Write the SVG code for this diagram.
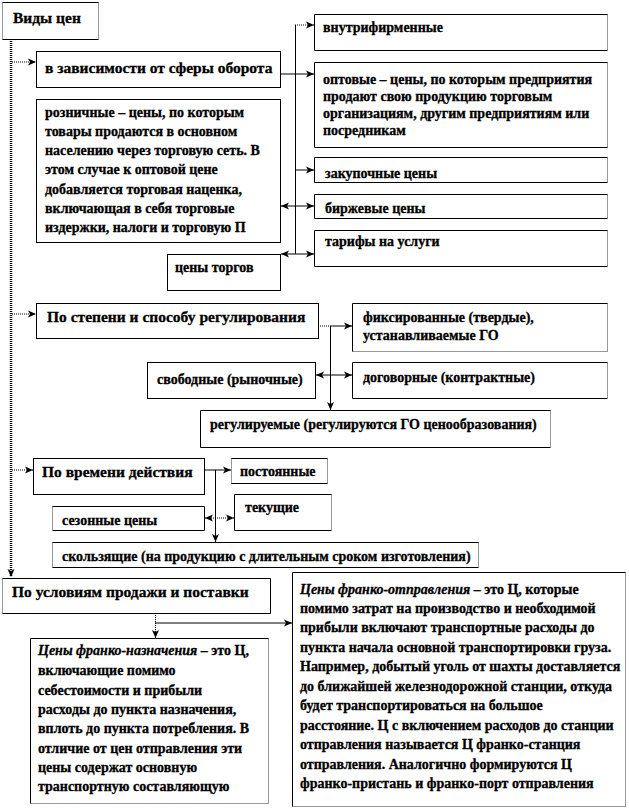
<svg xmlns="http://www.w3.org/2000/svg" width="629" height="809" viewBox="0 0 629 809">
<style>
text{font-family:"Liberation Serif","Times New Roman","DejaVu Serif",serif;font-weight:bold;font-size:14px;fill:#000;stroke:#000;stroke-width:0.3}
.h{font-size:15.5px}
.bx{fill:#fff;stroke:#000;stroke-width:1}
.bg{fill:#fff;stroke:none}
.sl{fill:none;stroke:#000;stroke-width:1}
.dt{fill:none;stroke:#333;stroke-width:1;stroke-dasharray:1 1}
.c{fill:none;stroke:#000;stroke-width:1}
.cd{fill:none;stroke:#000;stroke-width:1;stroke-dasharray:1 1}
.main{fill:none;stroke:#000;stroke-width:2.5;stroke-dasharray:1 1}
</style>
<defs>
<marker id="ah" viewBox="0 0 8 8" refX="8" refY="4" markerWidth="8" markerHeight="8" markerUnits="userSpaceOnUse" orient="auto-start-reverse">
<path d="M0,0.5 L8,4 L0,7.5 L2,4 z" fill="#000"/>
</marker>
</defs>

<g id="connectors">
<path class="main" d="M11,39 V577" marker-end="url(#ah)"/>
<path class="cd" d="M12,62 H36" marker-end="url(#ah)"/>
<path class="cd" d="M12,314 H36" marker-end="url(#ah)"/>
<path class="cd" d="M12,470 H33" marker-end="url(#ah)"/>
<path class="c" d="M280,74 H314" marker-end="url(#ah)"/>
<path class="c" d="M295.5,25 V254"/>
<path class="cd" d="M295,25 H314" marker-end="url(#ah)"/>
<path class="c" d="M295,170 H314" marker-end="url(#ah)"/>
<path class="c" d="M281,206 H314" marker-start="url(#ah)" marker-end="url(#ah)"/>
<path class="c" d="M281,254 H314" marker-start="url(#ah)" marker-end="url(#ah)"/>
<path class="cd" d="M318,326 H330"/>
<path class="c" d="M330,326 H352" marker-end="url(#ah)"/>
<path class="c" d="M330.5,326 V410" marker-end="url(#ah)"/>
<path class="c" d="M316,375 H352" marker-start="url(#ah)" marker-end="url(#ah)"/>
<path class="c" d="M204,470 H231" marker-end="url(#ah)"/>
<path class="c" d="M215.5,470 V542" marker-end="url(#ah)"/>
<path class="cd" d="M205,518 H234" marker-start="url(#ah)" marker-end="url(#ah)"/>
<path class="cd" d="M155.5,613 V638" marker-end="url(#ah)"/>
<path class="c" d="M155,623 H292" marker-end="url(#ah)"/>
</g>

<g id="n-vidy">
<rect class="bg" x="2.5" y="2.5" width="96" height="37"/>
<path class="sl" d="M2.5,2.5H98.5M2.5,39.5H98.5"/>
<path class="dt" d="M2.5,2.5V39.5M98.5,2.5V39.5"/>
<text class="h" x="13" y="23" font-size="16">Виды цен</text>
</g>

<g id="n-sfera">
<rect class="bx" x="36.5" y="51.5" width="244" height="36"/>
<text class="h" x="45" y="73">в зависимости от сферы оборота</text>
</g>

<g id="n-roznich">
<rect class="bx" x="36.5" y="99.5" width="244" height="143"/>
<text x="45" y="117">розничные – цены, по которым</text>
<text x="45" y="136">товары продаются в основном</text>
<text x="45" y="155">населению через торговую сеть. В</text>
<text x="45" y="174">этом случае к оптовой цене</text>
<text x="45" y="194">добавляется торговая наценка,</text>
<text x="45" y="213">включающая в себя торговые</text>
<text x="45" y="232">издержки, налоги и торговую П</text>
</g>

<g id="n-vnutri">
<rect class="bg" x="314.5" y="14.5" width="293" height="36"/>
<path class="sl" d="M607.5,14.5H314.5V50.5H607.5"/>
<path class="dt" d="M607.5,14.5V50.5"/>
<text x="323" y="32">внутрифирменные</text>
</g>

<g id="n-optov">
<rect class="bg" x="314.5" y="62.5" width="293" height="85"/>
<path class="sl" d="M607.5,62.5H314.5V147.5H607.5"/>
<path class="dt" d="M607.5,62.5V147.5"/>
<text x="323" y="84">оптовые – цены, по которым предприятия</text>
<text x="323" y="101">продают свою продукцию торговым</text>
<text x="323" y="118">организациям, другим предприятиям или</text>
<text x="323" y="135">посредникам</text>
</g>

<g id="n-zakup">
<rect class="bg" x="314.5" y="157.5" width="293" height="25"/>
<path class="sl" d="M607.5,157.5H314.5V182.5H607.5"/>
<path class="dt" d="M607.5,157.5V182.5"/>
<text x="325" y="178">закупочные цены</text>
</g>

<g id="n-birzh">
<rect class="bg" x="314.5" y="194.5" width="293" height="24"/>
<path class="sl" d="M607.5,194.5H314.5V218.5H607.5"/>
<path class="dt" d="M607.5,194.5V218.5"/>
<text x="325" y="213">биржевые цены</text>
</g>

<g id="n-tarif">
<rect class="bg" x="314.5" y="230.5" width="293" height="36"/>
<path class="sl" d="M607.5,230.5H314.5V266.5H607.5"/>
<path class="dt" d="M607.5,230.5V266.5"/>
<text x="325" y="246">тарифы на услуги</text>
</g>

<g id="n-torgi">
<rect class="bx" x="167.5" y="254.5" width="113" height="36"/>
<text x="175" y="272">цены торгов</text>
</g>

<g id="n-regul-head">
<rect class="bx" x="36.5" y="303.5" width="282" height="35"/>
<text class="h" x="47" y="322">По степени и способу регулирования</text>
</g>

<g id="n-fiks">
<rect class="bg" x="352.5" y="303.5" width="255" height="48"/>
<path class="sl" d="M607.5,303.5H352.5V351.5"/>
<path class="dt" d="M352.5,351.5H607.5V303.5"/>
<text x="363" y="322">фиксированные (твердые),</text>
<text x="363" y="340">устанавливаемые ГО</text>
</g>

<g id="n-svob">
<rect class="bx" x="147.5" y="362.5" width="168" height="36"/>
<text x="157" y="384">свободные (рыночные)</text>
</g>

<g id="n-dogov">
<rect class="bg" x="352.5" y="362.5" width="255" height="36"/>
<path class="sl" d="M607.5,362.5H352.5V398.5H607.5"/>
<path class="dt" d="M607.5,362.5V398.5"/>
<text x="363" y="382">договорные (контрактные)</text>
</g>

<g id="n-reguliruemye">
<rect class="bg" x="200.5" y="410.5" width="350" height="37"/>
<path class="sl" d="M550.5,410.5H200.5V447.5H550.5"/>
<path class="dt" d="M550.5,410.5V447.5"/>
<text x="210" y="429">регулируемые (регулируются ГО ценообразования)</text>
</g>

<g id="n-vremya">
<rect class="bx" x="33.5" y="458.5" width="171" height="36"/>
<text class="h" x="42" y="477">По времени действия</text>
</g>

<g id="n-postoyan">
<rect class="bg" x="231.5" y="458.5" width="96" height="25"/>
<path class="sl" d="M231.5,458.5H327.5M231.5,483.5H327.5"/>
<path class="dt" d="M231.5,458.5V483.5M327.5,458.5V483.5"/>
<text x="240" y="476">постоянные</text>
</g>

<g id="n-tekush">
<rect class="bg" x="234.5" y="494.5" width="97" height="36"/>
<path class="sl" d="M331.5,494.5H234.5V530.5H331.5"/>
<path class="dt" d="M331.5,494.5V530.5"/>
<text x="245" y="512">текущие</text>
</g>

<g id="n-sezon">
<rect class="bg" x="52.5" y="506.5" width="152" height="24"/>
<path class="sl" d="M52.5,506.5H204.5V530.5H52.5"/>
<path class="dt" d="M52.5,506.5V530.5"/>
<text x="62" y="525">сезонные цены</text>
</g>

<g id="n-skolz">
<rect class="bg" x="52.5" y="542.5" width="426" height="25"/>
<path class="sl" d="M52.5,542.5H478.5M52.5,567.5H478.5"/>
<path class="dt" d="M52.5,542.5V567.5M478.5,542.5V567.5"/>
<text x="62" y="561">скользящие (на продукцию с длительным сроком изготовления)</text>
</g>

<g id="n-usloviya">
<rect class="bg" x="2.5" y="578.5" width="268" height="35"/>
<path class="sl" d="M2.5,578.5H270.5V613.5H2.5"/>
<path class="dt" d="M2.5,578.5V613.5"/>
<text class="h" x="12" y="597">По условиям продажи и поставки</text>
</g>

<g id="n-franko-nazn">
<rect class="bg" x="30.5" y="638.5" width="238" height="165"/>
<path class="sl" d="M268.5,638.5H30.5V803.5"/>
<path class="dt" d="M30.5,803.5H268.5V638.5"/>
<text x="38" y="655"><tspan font-style="italic">Цены франко-назначения</tspan> – это Ц,</text>
<text x="38" y="675">включающие помимо</text>
<text x="38" y="695">себестоимости и прибыли</text>
<text x="38" y="714">расходы до пункта назначения,</text>
<text x="38" y="733">вплоть до пункта потребления. В</text>
<text x="38" y="753">отличие от цен отправления эти</text>
<text x="38" y="772">цены содержат основную</text>
<text x="38" y="791">транспортную составляющую</text>
</g>

<g id="n-franko-otpr">
<rect class="bg" x="292.5" y="572.5" width="333" height="234"/>
<path class="sl" d="M625.5,572.5H292.5V806.5"/>
<path class="dt" d="M292.5,806.5H625.5V572.5"/>
<text x="300" y="594"><tspan font-style="italic">Цены франко-отправления</tspan> – это Ц, которые</text>
<text x="300" y="613">помимо затрат на производство и необходимой</text>
<text x="300" y="632">прибыли включают транспортные расходы до</text>
<text x="300" y="652">пункта начала основной транспортировки груза.</text>
<text x="300" y="671">Например, добытый уголь от шахты доставляется</text>
<text x="300" y="691">до ближайшей железнодорожной станции, откуда</text>
<text x="300" y="710">будет транспортироваться на большое</text>
<text x="300" y="730">расстояние. Ц с включением расходов до станции</text>
<text x="300" y="749">отправления называется Ц франко-станция</text>
<text x="300" y="769">отправления. Аналогично формируются Ц</text>
<text x="300" y="788">франко-пристань и франко-порт отправления</text>
</g>
</svg>
